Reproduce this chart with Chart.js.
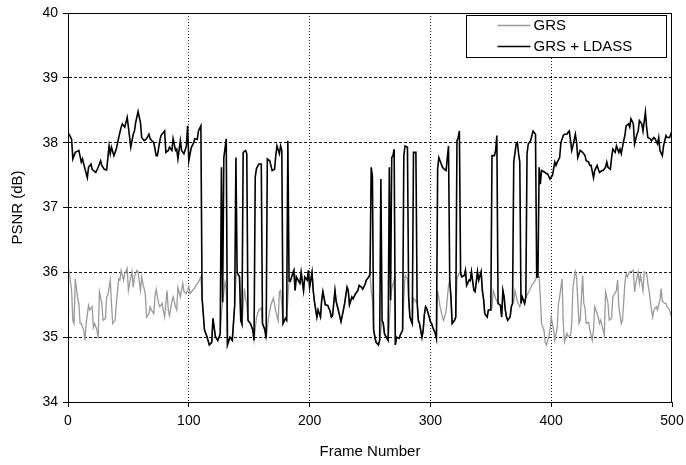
<!DOCTYPE html>
<html>
<head>
<meta charset="utf-8">
<script src="https://cdn.jsdelivr.net/npm/chart.js@4.4.1/dist/chart.umd.min.js"></script>
<style>
html,body{margin:0;padding:0;background:#fff;}
#wrap{position:relative;width:686px;height:465px;}
</style>
</head>
<body>
<div id="wrap"><canvas id="c" width="686" height="465"></canvas></div>
<script>
// ---- data ----
const xTicks = [0, 100, 200, 300, 400, 500];
const yTicks = [34, 35, 36, 37, 38, 39, 40];
const seriesNames = ['GRS', 'GRS + LDASS'];

const grsFrames = [
0,1,3,4,5,6,8,9,10,11,13,14,15,17,18,20,21,22,24,25,26,28,29,31,32,33,35,36,37,39,40,42,43,44,46,47,49,50,51,53,54,55,57,58,60,61,62,64,65,67,68,69,71,72,73,75,76,78,79,80,82,83,84,86,87,89,90,91,93,95,96,98,100,101,103,105,106,108,110,
111,113,115,117,119,120,122,124,126,127,128,130,131,132,134,136,138,139,140,142,143,144,146,147,148,149,151,153,154,156,158,160,161,163,164,166,168,170,172,174,175,176,177,178,180,181,182,183,
184,186,187,188,189,191,192,193,195,196,198,199,200,202,203,204,206,207,209,210,211,213,215,217,218,219,221,222,224,226,228,229,231,232,233,235,236,238,240,241,243,244,246,247,249,250,
251,252,253,254,255,257,258,259,260,261,262,264,265,266,267,268,270,271,272,274,275,277,278,279,281,282,283,285,286,288,289,290,291,293,294,295,296,297,299,300,301,302,304,305,306,307,308,310,311,313,315,316,317,318,320,321,322,324,325,
326,328,329,330,332,333,334,336,337,339,340,342,343,344,345,347,348,350,351,352,354,356,358,359,360,361,362,363,364,366,367,368,369,370,372,374,375,376,378,379,380,382,384,386,388,389,390,
391,392,394,395,396,398,399,400,402,403,405,406,407,409,410,411,413,414,416,417,418,420,421,423,424,426,427,428,429,431,432,434,435,436,437,439,440,441,443,444,445,447,448,450,451,452,454,455,456,458,459,461,462,463,465,466,468,469,470,472,473,474,476,477,479,480,481,483,484,485,487,488,490,491,492,494,495,496,498,499,500
];
const grsPsnr = [
35.95,36.00,35.72,35.26,35.21,35.90,35.60,35.52,35.21,35.21,35.11,34.95,35.21,35.49,35.42,35.47,35.15,35.21,35.11,34.98,35.70,35.52,35.26,35.29,35.62,35.65,35.88,35.52,35.21,35.26,35.52,35.90,35.88,36.03,35.88,35.98,36.06,35.72,35.83,36.01,35.77,35.93,36.03,36.01,35.72,35.93,35.83,35.67,35.31,35.36,35.47,35.42,35.36,35.62,35.74,35.52,35.47,35.52,35.40,35.31,35.72,35.42,35.33,35.55,35.62,35.47,35.42,35.77,35.62,35.83,35.70,35.67,35.78,35.67,35.72,35.76,35.80,35.85,35.93,
35.60,35.11,35.01,34.88,34.92,35.29,35.01,34.95,35.05,35.35,35.54,35.85,35.75,34.88,35.00,34.95,35.50,35.90,36.00,35.93,35.26,35.20,35.75,35.60,35.50,35.26,35.21,35.11,34.95,35.30,35.42,35.45,35.21,35.11,34.98,35.30,35.50,35.60,35.40,35.25,35.70,35.72,35.50,35.21,35.29,35.26,35.60,35.87,
35.86,35.98,36.03,35.72,35.93,35.86,35.83,36.00,35.72,35.93,35.88,36.03,35.77,36.00,35.72,35.55,35.31,35.42,35.31,35.57,35.70,35.50,35.49,35.40,35.31,35.33,35.72,35.55,35.40,35.24,35.42,35.52,35.77,35.72,35.50,35.62,35.59,35.67,35.72,35.80,35.77,35.74,35.82,35.88,35.93,35.97,
35.72,35.57,35.11,35.01,34.92,34.88,34.95,35.10,35.26,35.21,35.05,34.98,34.95,35.20,35.57,35.75,35.88,34.88,35.00,34.98,35.03,35.11,35.60,35.95,35.90,35.62,35.31,35.21,35.60,35.55,35.55,35.26,35.21,35.00,35.10,35.35,35.47,35.44,35.31,35.24,35.21,35.15,35.06,34.98,35.72,35.60,35.47,35.31,35.26,35.40,35.80,35.87,35.62,35.21,35.26,35.31,35.90,36.00,35.98,
35.93,35.95,36.03,35.80,35.88,35.87,36.01,35.72,35.70,36.01,35.88,36.01,35.72,35.59,35.36,35.31,35.42,35.42,35.45,35.72,35.60,35.52,35.49,35.31,35.72,35.62,35.42,35.31,35.26,35.31,35.47,35.52,35.55,35.72,35.55,35.47,35.52,35.62,35.52,35.62,35.65,35.72,35.80,35.85,35.93,35.93,35.93,
35.62,35.21,35.11,34.92,34.88,35.01,35.11,35.31,35.11,34.95,35.15,35.52,35.62,35.90,35.21,34.93,35.06,35.01,35.03,35.21,35.77,36.01,35.93,35.21,35.26,35.95,35.52,35.45,35.21,35.23,35.11,34.95,35.11,35.47,35.42,35.31,35.21,35.26,35.11,35.03,35.70,35.52,35.26,35.29,35.62,35.65,35.72,35.88,35.47,35.21,35.26,35.83,35.98,35.93,36.01,36.01,36.03,35.70,35.83,36.01,35.83,35.95,35.72,36.01,35.98,35.83,35.72,35.42,35.31,35.42,35.47,35.42,35.57,35.75,35.55,35.52,35.52,35.47,35.42,35.34,35.33
];

const ldassFrames = [
0,1,3,4,6,8,9,11,12,14,16,17,19,20,23,25,27,28,30,32,34,35,36,38,40,42,44,45,47,49,50,52,54,55,56,58,60,61,63,65,67,68,71,73,74,76,77,80,81,83,84,86,87,89,90,91,93,94,96,98,99,100,102,104,105,107,108,110,
111,113,115,117,119,120,122,124,126,127,128,129,131,132,134,136,138,139,140,142,143,144,145,147,148,149,151,153,154,155,156,158,160,161,163,164,165,167,169,171,172,173,175,176,177,178,180,181,182,183,
184,186,187,188,189,191,192,193,195,196,198,199,200,202,203,204,206,207,209,210,211,213,215,217,218,219,221,222,224,226,228,229,231,232,233,235,236,238,240,241,243,244,246,247,249,250,
251,252,253,254,255,257,258,259,260,261,262,264,265,266,267,268,269,270,271,272,274,275,277,278,279,281,282,283,285,286,288,289,290,291,293,294,295,296,297,299,300,301,302,304,305,306,307,308,310,311,313,314,315,316,317,318,320,321,322,323,324,325,
326,328,329,330,332,333,334,336,337,339,340,342,343,344,345,347,348,350,351,353,354,355,356,358,359,360,361,362,363,364,366,367,368,369,371,372,373,374,375,376,378,379,380,381,383,384,385,387,388,389,390,
391,392,395,396,397,399,400,401,403,404,405,407,408,410,411,413,414,415,417,418,420,421,422,424,426,428,429,431,432,433,435,436,438,439,440,442,443,445,446,447,449,450,451,453,454,456,457,458,460,461,462,464,465,466,468,469,471,472,473,475,476,478,479,480,482,483,485,486,488,489,490,492,493,495,496,498,499,500
];
const ldassPsnr = [
38.13,38.13,38.05,37.75,37.85,37.87,37.88,37.70,37.75,37.60,37.46,37.62,37.67,37.59,37.54,37.62,37.72,37.65,37.59,37.58,37.95,37.83,37.93,37.80,37.90,38.08,38.24,38.29,38.24,38.39,38.24,37.93,38.13,38.18,38.31,38.48,38.31,38.08,38.03,38.06,38.13,38.06,38.00,37.80,37.80,38.03,38.11,38.18,37.85,37.88,37.93,37.88,38.06,37.88,37.90,37.75,38.03,37.88,37.83,37.95,38.26,37.72,37.92,38.00,38.06,38.05,38.18,38.26,
35.60,35.11,35.01,34.88,34.92,35.29,35.01,34.95,35.05,37.62,35.54,37.77,38.06,34.88,35.00,34.95,35.50,37.77,36.00,35.93,35.26,35.20,37.85,37.88,37.83,35.26,35.21,35.11,34.95,37.47,37.60,37.67,37.67,35.21,35.11,34.98,37.75,37.72,37.57,37.59,37.80,37.95,37.83,37.95,37.88,35.21,35.29,35.26,38.03,35.87,
35.86,35.98,36.03,35.72,35.93,35.86,35.83,36.00,35.72,35.93,35.88,36.03,35.77,36.00,35.72,35.55,35.31,35.42,35.31,35.57,35.70,35.50,35.49,35.40,35.31,35.33,35.72,35.55,35.40,35.24,35.42,35.52,35.77,35.72,35.50,35.62,35.59,35.67,35.72,35.80,35.77,35.74,35.82,35.88,35.93,35.97,
37.62,37.48,35.11,35.01,34.92,34.88,34.95,37.44,35.26,35.21,35.05,34.98,34.95,37.62,35.57,37.77,37.80,37.90,34.88,35.00,34.98,35.03,35.11,37.80,37.95,37.93,35.62,35.31,35.21,37.85,37.85,35.55,35.26,35.21,35.00,35.10,35.35,35.47,35.44,35.31,35.24,35.21,35.15,35.06,34.98,37.60,37.77,37.72,37.62,37.60,37.57,37.77,37.95,35.87,35.62,35.21,35.26,35.31,38.03,38.08,38.18,35.98,
35.93,35.95,36.03,35.80,35.88,35.87,36.01,35.72,35.70,36.01,35.88,36.01,35.72,35.59,35.36,35.31,35.42,35.42,37.80,37.80,37.88,38.11,35.52,35.49,35.31,35.72,35.62,35.42,35.31,35.26,35.31,35.47,35.52,37.70,37.98,38.00,37.83,37.70,35.52,35.62,35.52,35.62,37.83,37.98,38.03,38.11,38.18,38.13,35.93,35.93,37.62,
37.36,37.57,37.54,37.52,37.52,37.44,37.47,37.49,37.70,37.65,37.70,37.77,38.00,38.11,38.13,38.13,38.16,38.18,37.88,37.95,38.13,38.00,37.77,37.88,37.85,37.80,37.72,37.70,37.65,37.65,37.46,37.57,37.65,37.59,37.54,37.57,37.57,37.62,37.70,37.62,37.59,37.77,37.90,37.85,37.95,37.85,37.90,37.83,38.03,38.11,38.26,38.29,38.24,38.37,38.29,37.98,38.13,38.18,38.34,38.29,38.18,38.47,38.24,38.08,38.06,38.03,38.08,38.06,37.98,38.08,37.88,37.80,37.95,38.11,38.08,38.08,38.13,38.18
];

// ---- chart ----
const toPts = (fr, vals) => fr.map((f, i) => ({x: f, y: vals[i]}));

Chart.defaults.font.family = "'Liberation Sans', Arial, sans-serif";
Chart.defaults.color = '#000';

const framePlugin = {
  id: 'frameAndLegend',
  afterDraw(chart) {
    const {ctx, chartArea: a} = chart;
    ctx.save();
    ctx.strokeStyle = '#000';
    ctx.lineWidth = 1;
    ctx.setLineDash([]);
    ctx.strokeRect(Math.round(a.left) + 0.5, Math.round(a.top) + 0.5,
                   Math.round(a.right) - Math.round(a.left) - 1, Math.round(a.bottom) - Math.round(a.top));
    // legend
    const bx = Math.round(a.right) - 205.5, by = Math.round(a.top) + 2.5, bw = 200, bh = 42;
    ctx.fillStyle = '#fff';
    ctx.fillRect(bx, by, bw, bh);
    ctx.strokeRect(bx, by, bw, bh);
    const ds = chart.data.datasets;
    const rows = [by + 9, by + 30];
    ds.forEach((d, i) => {
      const y = Math.round(rows[i]) + 0.5;
      ctx.strokeStyle = d.borderColor;
      ctx.lineWidth = d.borderWidth;
      ctx.beginPath();
      ctx.moveTo(bx + 31, y);
      ctx.lineTo(bx + 64, y);
      ctx.stroke();
      ctx.fillStyle = '#000';
      ctx.font = "15px 'Liberation Sans', Arial, sans-serif";
      ctx.textBaseline = 'middle';
      ctx.textAlign = 'left';
      ctx.fillText(d.label, bx + 67, y);
    });
    ctx.restore();
  }
};

const edgeClear = (edges, col) => (c) => (c.tick && edges.includes(c.tick.value)) ? 'rgba(0,0,0,0)' : col;

new Chart(document.getElementById('c'), {
  type: 'line',
  data: {
    datasets: [
      {label: seriesNames[0], data: toPts(grsFrames, grsPsnr), borderColor: '#9a9a9a', borderWidth: 1.3, pointRadius: 0, tension: 0, order: 1},
      {label: seriesNames[1], data: toPts(ldassFrames, ldassPsnr), borderColor: '#000', borderWidth: 1.6, pointRadius: 0, tension: 0, order: 0}
    ]
  },
  options: {
    responsive: false,
    animation: false,
    parsing: false,
    normalized: true,
    layout: {padding: {left: 0, right: 14, top: 13, bottom: 0}},
    plugins: {legend: {display: false}, tooltip: {enabled: false}},
    scales: {
      x: {
        type: 'linear', min: 0, max: 500,
        afterBuildTicks: (s) => { s.ticks = xTicks.map(v => ({value: v})); },
        afterFit: (s) => { s.height = 63; s.paddingLeft = 0; s.paddingRight = 0; },
        ticks: {font: {size: 14}, padding: 6, maxRotation: 0},
        grid: {color: edgeClear([0, 500], '#222'), tickColor: '#000', tickLength: 5, lineWidth: 1},
        border: {display: true, color: '#000', width: 1, dash: [1, 2]},
        title: {display: true, text: 'Frame Number', font: {size: 15}, padding: {top: 0, bottom: 4}}
      },
      y: {
        type: 'linear', min: 34, max: 40,
        afterBuildTicks: (s) => { s.ticks = yTicks.map(v => ({value: v})); },
        afterFit: (s) => { s.width = 68; s.paddingTop = 0; s.paddingBottom = 0; },
        ticks: {font: {size: 14}, padding: 5},
        grid: {color: edgeClear([34, 40], '#111'), tickColor: '#000', tickLength: 5, lineWidth: 1},
        border: {display: true, color: '#000', width: 1, dash: [3, 2]},
        title: {display: true, text: 'PSNR (dB)', font: {size: 15}, padding: {top: 9, bottom: 0}}
      }
    }
  },
  plugins: [framePlugin]
});
</script>
</body>
</html>
